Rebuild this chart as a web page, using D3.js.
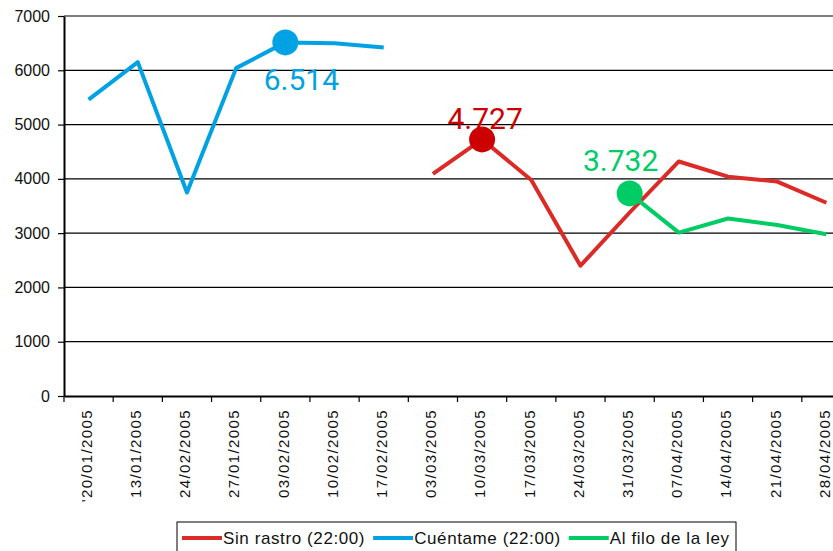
<!DOCTYPE html>
<html>
<head>
<meta charset="utf-8">
<script src="https://cdn.jsdelivr.net/npm/d3@7"></script>
<style>
  body { margin: 0; background: #fff; }
  svg { display: block; }
  .tick text { font-family: "Liberation Sans", Arial, sans-serif; fill: #111; }
</style>
</head>
<body>
<svg id="chart"></svg>
<script>
// categories (as printed on the axis)
const dates = ["'20/01/2005", "13/01/2005", "24/02/2005", "27/01/2005", "03/02/2005",
  "10/02/2005", "17/02/2005", "03/03/2005", "10/03/2005", "17/03/2005", "24/03/2005",
  "31/03/2005", "07/04/2005", "14/04/2005", "21/04/2005", "28/04/2005"];

// series values (null = no data)
const sinRastro = [null, null, null, null, null, null, null,
  4090, 4727, 3980, 2400, 3380, 4320, 4040, 3950, 3560];
const cuentame = [5460, 6150, 3750, 6040, 6514, 6500, 6420,
  null, null, null, null, null, null, null, null, null];
const alFilo = [null, null, null, null, null, null, null,
  null, null, null, null, 3732, 3010, 3270, 3150, 2980];

const seriesNames = ["Sin rastro (22:00)", "Cuéntame (22:00)", "Al filo de la ley"];
const seriesColors = ["#dc2a26", "#00a2e3", "#00cc66"];
const markerColors = ["#cc0000", "#00a2e3", "#00cc66"];

// highlighted points: series index, category index, label text
const highlights = [
  { s: 1, i: 4, label: "6.514", dx: 16, dy: 48 },
  { s: 0, i: 8, label: "4.727", dx: 3, dy: -10 },
  { s: 2, i: 11, label: "3.732", dx: -9, dy: -22 },
];

const yTicks = [0, 1000, 2000, 3000, 4000, 5000, 6000, 7000];

const W = 833, H = 551;
const margin = { top: 16, left: 64 };
const plotW = 787, plotH = 380; // plot runs past the right edge, like the source

const svg = d3.select("#chart").attr("width", W).attr("height", H);

const x = d3.scaleBand().domain(dates).range([margin.left, margin.left + plotW]);
const y = d3.scaleLinear().domain([0, 7000]).range([margin.top + plotH, margin.top]);

// gridlines
svg.append("g")
  .selectAll("line")
  .data(yTicks.filter((d) => d > 0))
  .join("line")
  .attr("x1", margin.left)
  .attr("x2", margin.left + plotW)
  .attr("y1", (d) => y(d))
  .attr("y2", (d) => y(d))
  .attr("stroke", "#000")
  .attr("stroke-width", 1.2);

// y axis
const gy = svg.append("g")
  .attr("transform", `translate(${margin.left},0)`)
  .call(d3.axisLeft(y).tickValues(yTicks).tickFormat(d3.format("d")).tickSize(6).tickSizeOuter(0));
gy.select(".domain").attr("stroke", "#000").attr("stroke-width", 2);
gy.selectAll(".tick line").attr("stroke", "#000").attr("stroke-width", 1.2);
gy.selectAll(".tick text").attr("font-size", 16).attr("x", -14);

// x axis: labels at band centres, ticks at band edges
const gx = svg.append("g")
  .attr("transform", `translate(0,${y(0)})`)
  .call(d3.axisBottom(x).tickSize(0).tickSizeOuter(0));
gx.select(".domain").attr("stroke", "#000").attr("stroke-width", 2);
gx.selectAll(".tick text")
  .attr("transform", "rotate(-90)")
  .attr("text-anchor", "end")
  .attr("x", -13)
  .attr("y", 0)
  .attr("dy", "0.22em")
  .attr("font-size", 15)
  .attr("letter-spacing", 1.4);

gx.append("g")
  .selectAll("line")
  .data(dates.concat(["end"]))
  .join("line")
  .attr("x1", (d, i) => (i < dates.length ? x(d) : x(dates[dates.length - 1]) + x.bandwidth()))
  .attr("x2", (d, i) => (i < dates.length ? x(d) : x(dates[dates.length - 1]) + x.bandwidth()))
  .attr("y1", 0)
  .attr("y2", 6)
  .attr("stroke", "#000")
  .attr("stroke-width", 1.2);

// lines
const allSeries = [sinRastro, cuentame, alFilo];
const line = d3.line()
  .defined((d) => d !== null)
  .x((d, i) => x(dates[i]) + x.bandwidth() / 2)
  .y((d) => y(d));

svg.append("g")
  .selectAll("path")
  .data(allSeries)
  .join("path")
  .attr("d", line)
  .attr("fill", "none")
  .attr("stroke", (d, i) => seriesColors[i])
  .attr("stroke-width", 4)
  .attr("stroke-linejoin", "round");

// highlighted points + labels
const hl = svg.append("g")
  .selectAll("g")
  .data(highlights)
  .join("g")
  .attr("transform", (d) =>
    `translate(${x(dates[d.i]) + x.bandwidth() / 2},${y(allSeries[d.s][d.i])})`);

hl.append("circle")
  .attr("r", 13)
  .attr("fill", (d) => markerColors[d.s]);

hl.append("text")
  .attr("x", (d) => d.dx)
  .attr("y", (d) => d.dy)
  .attr("text-anchor", "middle")
  .attr("font-family", "Roboto, sans-serif")
  .attr("font-size", 30)
  .attr("fill", (d) => markerColors[d.s])
  .text((d) => d.label);

// legend
const legend = svg.append("g");
legend.append("rect")
  .attr("x", 177)
  .attr("y", 522)
  .attr("width", 559)
  .attr("height", 40)
  .attr("fill", "#fff")
  .attr("stroke", "#000")
  .attr("stroke-width", 1);

let lx = 182;
seriesNames.forEach((name, i) => {
  legend.append("line")
    .attr("x1", lx)
    .attr("x2", lx + 40)
    .attr("y1", 538)
    .attr("y2", 538)
    .attr("stroke", seriesColors[i])
    .attr("stroke-width", 4);
  const t = legend.append("text")
    .attr("x", lx + 41)
    .attr("y", 544)
    .attr("font-family", "Liberation Sans, Arial, sans-serif")
    .attr("font-size", 17)
    .attr("letter-spacing", 0.6)
    .attr("fill", "#111")
    .text(name);
  lx += 41 + t.node().getComputedTextLength() + 8;
});
</script>
</body>
</html>
